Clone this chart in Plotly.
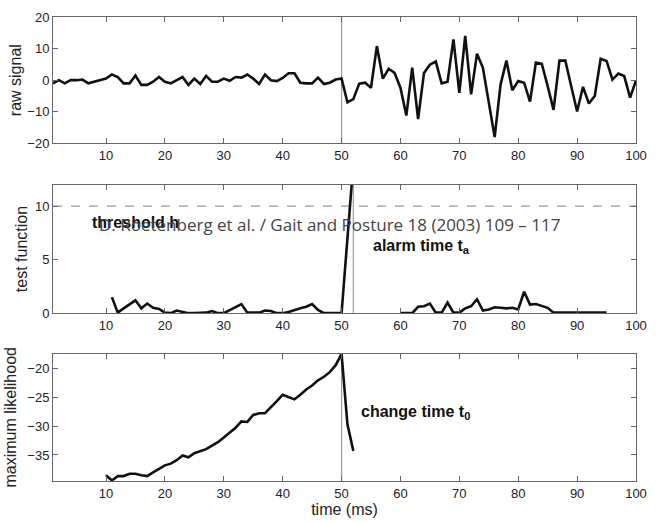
import plotly.graph_objects as go

# ---- data ----
t_raw = list(range(1, 101))
raw_signal = [
    -1.0, 0.0, -1.0, 0.0, 0.0, 0.2, -1.0, -0.5, 0.2, 0.5,
    1.8, 1.0, -1.0, -1.0, 1.5, -1.5, -1.5, -0.5, 1.0, -0.5,
    -1.0, 0.0, 1.0, -1.5, 0.5, -1.2, 1.3, -0.5, -0.5, 0.5,
    -0.2, 1.0, 0.8, 1.8, 0.5, -1.2, 1.8, 0.0, -0.3, 0.7,
    2.2, 2.2, -0.8, -1.0, -1.0, 0.8, -1.2, -0.8, 0.2, 0.5,
    -7.0, -6.0, -1.1, -0.8, -2.4, 10.8, 0.5, 3.6, 2.3, -2.4,
    -11.2, 4.0, -12.3, 2.3, 4.9, 5.9, -1.0, -0.5, 12.9, -4.0,
    14.0, -4.5, 8.4, 3.9, -6.6, -18.0, -1.4, 6.2, -3.2, -0.3,
    -0.8, -6.8, 5.6, 5.2, -1.9, -9.4, 6.2, 6.2, -1.9, -9.9,
    -2.1, -7.4, -5.0, 6.8, 6.1, 0.2, 2.1, 1.3, -5.5, -0.1,
]

t_test = list(range(11, 96))
test_function = [
    1.5, 0.05, 0.45, 0.8, 1.2, 0.45, 0.9, 0.5, 0.4, 0.05,
    0.0, 0.25, 0.1, 0.0, 0.0, 0.0, 0.05, 0.2, 0.0, 0.0,
    0.3, 0.6, 0.85, 0.05, 0.05, 0.05, 0.25, 0.2, 0.0, 0.0,
    0.1, 0.3, 0.45, 0.6, 0.85, 0.3, 0.0, 0.0, 0.0, 0.0,
    7.0, 14.0, None, None, None, None, None, None, None, 0.0,
    0.0, 0.0, 0.6, 0.65, 0.9, 0.05, 0.05, 1.0, 0.05, 0.05,
    0.45, 0.65, 1.3, 0.25, 0.35, 0.55, 0.5, 0.45, 0.5, 0.35,
    2.0, 0.8, 0.85, 0.65, 0.5, 0.05, 0.05, 0.05, 0.0, 0.0,
    0.0, 0.0, 0.0, 0.0, 0.05,
]

t_ml = list(range(10, 53))
max_likelihood = [
    -38.5, -39.4, -38.65, -38.65, -38.25, -38.25, -38.5, -38.65, -38.0, -37.35,
    -36.8, -36.5, -35.9, -35.1, -35.4, -34.7, -34.4, -34.0, -33.4, -32.8,
    -32.0, -31.1, -30.3, -29.2, -29.3, -28.1, -27.8, -27.8, -26.8, -25.7,
    -24.6, -25.0, -25.4, -24.6, -23.7, -23.0, -22.1, -21.5, -20.7, -19.5,
    -17.55, -29.7, -34.3,
]

change_time = 50
alarm_time = 52
threshold = 10

x_ticks = [10, 20, 30, 40, 50, 60, 70, 80, 90, 100]

# ---- figure ----
fig = go.Figure()
line_style = dict(color="#111111", width=2.6)

fig.add_trace(go.Scatter(x=t_raw, y=raw_signal, mode="lines", line=line_style,
                         xaxis="x", yaxis="y", showlegend=False))
fig.add_trace(go.Scatter(x=t_test, y=test_function, mode="lines", line=line_style,
                         connectgaps=False, xaxis="x2", yaxis="y2", showlegend=False))
fig.add_trace(go.Scatter(x=t_ml, y=max_likelihood, mode="lines", line=line_style,
                         xaxis="x3", yaxis="y3", showlegend=False))

# reference lines
gray = "#9a9a9a"
fig.add_shape(type="line", xref="x", yref="y domain", x0=change_time, x1=change_time,
              y0=0, y1=1, line=dict(color=gray, width=1.2), layer="below")
fig.add_shape(type="line", xref="x2", yref="y2 domain", x0=alarm_time, x1=alarm_time,
              y0=0, y1=1, line=dict(color=gray, width=1.2), layer="below")
fig.add_shape(type="line", xref="x3", yref="y3 domain", x0=change_time, x1=change_time,
              y0=0, y1=1, line=dict(color=gray, width=1.2), layer="below")
fig.add_shape(type="line", xref="x2 domain", yref="y2", x0=0, x1=1,
              y0=threshold, y1=threshold, line=dict(color=gray, width=1.2, dash="dash"),
              layer="below")

axis_font = dict(family="Liberation Sans, Arial, sans-serif", size=13, color="#222")
title_font = dict(family="Liberation Sans, Arial, sans-serif", size=16, color="#222")

common_x = dict(range=[1, 100], tickvals=x_ticks, ticks="inside", ticklen=5,
                tickcolor="#666", showline=True, linecolor="#666", linewidth=1,
                mirror="ticks", showgrid=False, zeroline=False, tickfont=axis_font)
common_y = dict(ticks="inside", ticklen=5, tickcolor="#666", showline=True,
                linecolor="#666", linewidth=1, mirror="ticks", showgrid=False,
                zeroline=False, tickfont=axis_font)

fig.update_layout(
    width=657, height=523,
    margin=dict(l=50, r=10, t=12, b=41),
    paper_bgcolor="white", plot_bgcolor="white",
    xaxis=dict(common_x, domain=[0, 1], anchor="y"),
    yaxis=dict(common_y, domain=[0.7277, 1], range=[-20, 20],
               tickvals=[-20, -10, 0, 10, 20], anchor="x",
               title=dict(text="raw signal", font=title_font, standoff=1)),
    xaxis2=dict(common_x, domain=[0, 1], anchor="y2"),
    yaxis2=dict(common_y, domain=[0.3617, 0.6383], range=[0, 12],
                tickvals=[0, 5, 10], anchor="x2",
                title=dict(text="test function", font=title_font, standoff=3)),
    xaxis3=dict(common_x, domain=[0, 1], anchor="y3",
                title=dict(text="time (ms)", font=title_font, standoff=1)),
    yaxis3=dict(common_y, domain=[0, 0.2745], range=[-39.5, -17.5],
                tickvals=[-35, -30, -25, -20], anchor="x3",
                title=dict(text="maximum likelihood", font=title_font, standoff=6)),
)

bold_font = dict(family="Liberation Sans, Arial, sans-serif", size=16, color="#111")
fig.add_annotation(x=15, y=8.46, xref="x2", yref="y2", text="<b>threshold h</b>",
                   showarrow=False, font=bold_font)
fig.add_annotation(x=55, y=6.2, xref="x2", yref="y2", xanchor="left",
                   text="<b>alarm time t<sub>a</sub></b>", showarrow=False, font=bold_font)
fig.add_annotation(x=53, y=-27.6, xref="x3", yref="y3", xanchor="left",
                   text="<b>change time t<sub>0</sub></b>", showarrow=False, font=bold_font)
fig.add_annotation(x=0.474, y=0.553, xref="paper", yref="paper",
                   text="D. Roetenberg et al. / Gait and Posture 18 (2003) 109 – 117",
                   showarrow=False,
                   font=dict(family="Open Sans, Noto Sans, sans-serif", size=17, color="#444"))

fig.write_html("out.html")
